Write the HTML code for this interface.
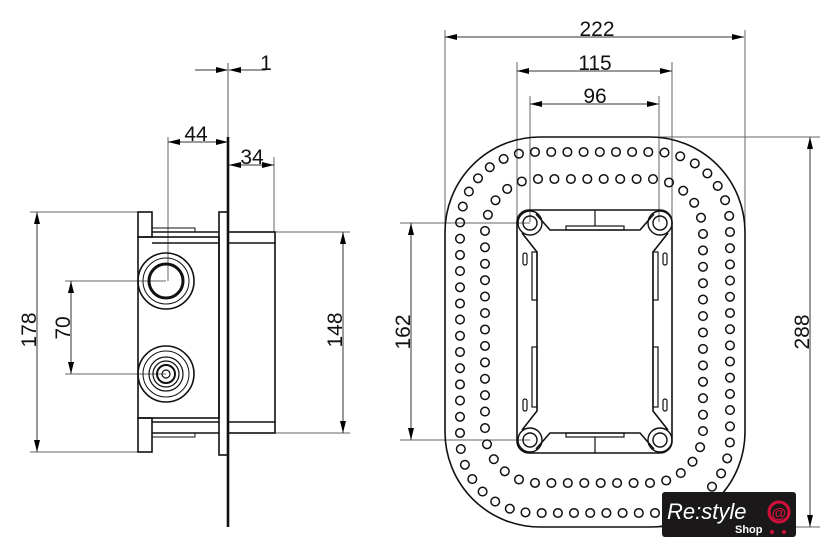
<!DOCTYPE html>
<html><head><meta charset="utf-8"><style>
html,body{margin:0;padding:0;background:#fff;}
svg{display:block;}
text{font-family:"Liberation Sans",Arial,sans-serif;fill:#111;}
</style></head><body>
<svg id="s" width="840" height="548" viewBox="0 0 840 548" xmlns="http://www.w3.org/2000/svg">
<defs>
<marker id="a" viewBox="0 0 12 6" refX="12" refY="3" markerWidth="12" markerHeight="6" orient="auto-start-reverse" markerUnits="userSpaceOnUse"><path d="M0,0 L12,3 L0,6 Z" fill="#000"/></marker>
</defs>
<g stroke="#666" stroke-width="1" fill="none">
<line x1="30" y1="212" x2="138" y2="212"/>
<line x1="30" y1="452" x2="138" y2="452"/>
<line x1="65" y1="281" x2="166" y2="281"/>
<line x1="65" y1="374" x2="166" y2="374"/>
<line x1="275" y1="232" x2="350" y2="232"/>
<line x1="275" y1="433" x2="350" y2="433"/>
<line x1="168" y1="137" x2="168" y2="281"/>
<line x1="274" y1="157" x2="274" y2="232"/>
<line x1="445" y1="30" x2="445" y2="230"/>
<line x1="745" y1="30" x2="745" y2="230"/>
<line x1="517" y1="62" x2="517" y2="222"/>
<line x1="672" y1="62" x2="672" y2="222"/>
<line x1="530" y1="96" x2="530" y2="222"/>
<line x1="659" y1="96" x2="659" y2="222"/>
<line x1="660" y1="137" x2="820" y2="137"/>
<line x1="660" y1="527" x2="820" y2="527"/>
<line x1="400" y1="223" x2="530" y2="223"/>
<line x1="400" y1="440" x2="530" y2="440"/>
</g>
<g stroke="#333" stroke-width="1" fill="none">
<line x1="37" y1="212" x2="37" y2="452" marker-start="url(#a)" marker-end="url(#a)"/>
<line x1="71" y1="281" x2="71" y2="374" marker-start="url(#a)" marker-end="url(#a)"/>
<line x1="343" y1="232" x2="343" y2="433" marker-start="url(#a)" marker-end="url(#a)"/>
<line x1="168" y1="142" x2="228" y2="142" marker-start="url(#a)" marker-end="url(#a)"/>
<line x1="229" y1="165" x2="274" y2="165" marker-start="url(#a)" marker-end="url(#a)"/>
<line x1="195" y1="70" x2="228" y2="70" marker-end="url(#a)"/>
<line x1="266" y1="70" x2="229" y2="70" marker-end="url(#a)"/>
<line x1="266" y1="62" x2="266" y2="70"/>
<line x1="445" y1="37" x2="744" y2="37" marker-start="url(#a)" marker-end="url(#a)"/>
<line x1="517" y1="71" x2="672" y2="71" marker-start="url(#a)" marker-end="url(#a)"/>
<line x1="530" y1="104" x2="659" y2="104" marker-start="url(#a)" marker-end="url(#a)"/>
<line x1="810" y1="137" x2="810" y2="527" marker-start="url(#a)" marker-end="url(#a)"/>
<line x1="411" y1="223" x2="411" y2="440" marker-start="url(#a)" marker-end="url(#a)"/>
</g>
<g stroke="#111" stroke-width="1.6" fill="none">
<line x1="228" y1="63" x2="228" y2="137" stroke-width="1" stroke="#555"/>
<line x1="228" y1="137" x2="228" y2="527" stroke-width="2.6"/>
<rect x="138" y="212" width="14" height="25"/>
<rect x="138" y="418" width="14" height="34"/>
<rect x="138" y="237" width="81" height="181"/>
<line x1="152" y1="232" x2="219" y2="232"/>
<line x1="152" y1="243" x2="219" y2="243"/>
<line x1="152" y1="422" x2="219" y2="422"/>
<line x1="152" y1="433" x2="219" y2="433"/>
<rect x="219" y="212" width="9" height="243"/>
<rect x="228" y="232" width="47" height="201"/>
<line x1="228" y1="243" x2="275" y2="243"/>
<line x1="228" y1="422" x2="275" y2="422"/>
<path d="M152,228 L195,228 L195,232" stroke-width="1"/>
<path d="M152,437 L195,437 L195,433" stroke-width="1"/>
<circle cx="166" cy="281" r="28"/>
<circle cx="166" cy="281" r="23" stroke-width="1"/>
<circle cx="166" cy="281" r="17" stroke-width="3"/>
<circle cx="166" cy="374" r="28"/>
<circle cx="166" cy="374" r="23" stroke-width="1"/>
<circle cx="166" cy="374" r="17" stroke-width="1.2"/>
<circle cx="166" cy="374" r="13" stroke-width="1.2"/>
<circle cx="166" cy="374" r="9" stroke-width="2"/>
<circle cx="166" cy="374" r="4" stroke-width="1.2"/>
</g>
<g stroke="#111" stroke-width="1.6" fill="none">
<rect x="445" y="137" width="300" height="390" rx="95" ry="95"/>
<rect x="517" y="210" width="155" height="243" rx="12" ry="12"/>
<path d="M536,214 L550,230 L640,230 L654,214"/>
<path d="M536,449 L550,433 L640,433 L654,449"/>
<path d="M522,233 L537,252 L537,411 L522,430"/>
<path d="M668,233 L653,252 L653,411 L668,430"/>
<rect x="566" y="226" width="58" height="4" stroke-width="1.2"/>
<rect x="566" y="433" width="58" height="4" stroke-width="1.2"/>
<line x1="595" y1="210" x2="595" y2="226" stroke-width="1.2"/>
<line x1="595" y1="437" x2="595" y2="453" stroke-width="1.2"/>
<g stroke-width="1.4">
<circle cx="530" cy="223" r="12"/><circle cx="530" cy="223" r="7"/>
<circle cx="660" cy="223" r="12"/><circle cx="660" cy="223" r="7"/>
<circle cx="530" cy="440" r="12"/><circle cx="530" cy="440" r="7"/>
<circle cx="660" cy="440" r="12"/><circle cx="660" cy="440" r="7"/>
</g>
<g stroke-width="1.2">
<rect x="532" y="252" width="5" height="48"/><rect x="653" y="252" width="5" height="48"/>
<rect x="532" y="347" width="5" height="60"/><rect x="653" y="347" width="5" height="60"/>
<rect x="523" y="253" width="4" height="12" rx="2"/><rect x="663" y="253" width="4" height="12" rx="2"/>
<rect x="523" y="399" width="4" height="12" rx="2"/><rect x="663" y="399" width="4" height="12" rx="2"/>
</g>
</g>
<g id="dots" stroke="#111" stroke-width="1.5" fill="none"></g>
<path id="p1" d="M535,152 L655,152 A75,75 0 0 1 730,227 L730,438 A75,75 0 0 1 655,513 L535,513 A75,75 0 0 1 460,438 L460,227 A75,75 0 0 1 535,152 Z" fill="none" stroke="none"/>
<path id="p2" d="M538,179 L650,179 A53,53 0 0 1 703,232 L703,430 A53,53 0 0 1 650,483 L538,483 A53,53 0 0 1 485,430 L485,232 A53,53 0 0 1 538,179 Z" fill="none" stroke="none"/>
<text x="196" y="141" font-size="21" text-anchor="middle">44</text>
<text x="252" y="164" font-size="21" text-anchor="middle">34</text>
<text x="266" y="70" font-size="21" text-anchor="middle">1</text>
<text x="597" y="36" font-size="21" text-anchor="middle">222</text>
<text x="595" y="70" font-size="21" text-anchor="middle">115</text>
<text x="595" y="103" font-size="21" text-anchor="middle">96</text>
<text transform="translate(36,330) rotate(-90)" font-size="21" text-anchor="middle">178</text>
<text transform="translate(70,328) rotate(-90)" font-size="21" text-anchor="middle">70</text>
<text transform="translate(342,330) rotate(-90)" font-size="21" text-anchor="middle">148</text>
<text transform="translate(410,332) rotate(-90)" font-size="21" text-anchor="middle">162</text>
<text transform="translate(809,332) rotate(-90)" font-size="21" text-anchor="middle">288</text>
<rect x="662" y="492" width="134" height="45" rx="3" fill="#1a1818"/>
<text x="667" y="519" font-size="22" font-style="italic" style="fill:#fff">Re:style</text>
<text x="735" y="533" font-size="11" font-weight="bold" style="fill:#fff">Shop</text>
<circle cx="779" cy="512" r="10" fill="none" stroke="#d0103a" stroke-width="3"/>
<text x="779" y="518" font-size="15" font-weight="bold" text-anchor="middle" style="fill:#d0103a">@</text>
<circle cx="772" cy="532" r="2" fill="#d0103a"/><circle cx="784" cy="532" r="2" fill="#d0103a"/>
</svg>
<script>
(function(){
var g=document.getElementById('dots');
[['p1',16.3],['p2',16.3]].forEach(function(d){
var p=document.getElementById(d[0]);var L=p.getTotalLength();var n=Math.round(L/d[1]);
for(var i=0;i<n;i++){var pt=p.getPointAtLength(i*L/n);
var c=document.createElementNS('http://www.w3.org/2000/svg','circle');
c.setAttribute('cx',pt.x.toFixed(1));c.setAttribute('cy',pt.y.toFixed(1));c.setAttribute('r','4.3');g.appendChild(c);}
});
})();
</script>
</body></html>
